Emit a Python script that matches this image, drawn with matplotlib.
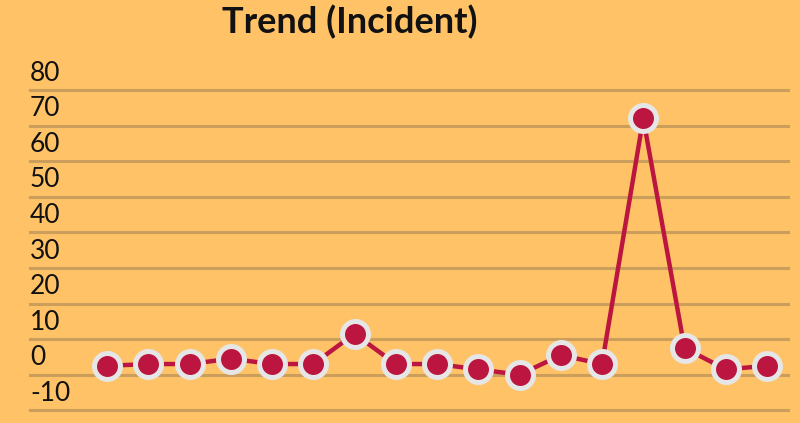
import matplotlib
matplotlib.use("Agg")
import matplotlib.pyplot as plt
import matplotlib.transforms as mtransforms

title = "Trend (Incident)"
y_ticks = [80, 70, 60, 50, 40, 30, 20, 10, 0, -10]
values = [2.5, 3, 3, 4.5, 3, 3, 11.5, 3, 3, 1.5, 0, 5.5, 3, 72, 7.5, 1.5, 2.5]

BG = "#FFC266"
GRID = "#CC9E5C"
LINE = "#BB1540"
EDGE = "#E6E6E6"

plt.rcParams['font.family'] = ['Lato', 'DejaVu Sans']

fig = plt.figure(figsize=(8, 4.23), dpi=100)
fig.patch.set_facecolor(BG)
ax = fig.add_axes([30/800, 1 - 410.3/423, 758/800, 320.3/423])
ax.set_facecolor(BG)
for s in ax.spines.values():
    s.set_visible(False)

x = list(range(len(values)))
ax.set_xlim((30 - 107) / 41.25, (788 - 107) / 41.25)
ax.set_ylim(min(y_ticks), max(y_ticks))

for t in y_ticks:
    ax.axhline(t, color=GRID, lw=2.2, zorder=1, clip_on=False)

trans = mtransforms.blended_transform_factory(ax.transAxes, ax.transData)
for t in y_ticks:
    ax.text(0.0, t + 1.2, str(t), transform=trans, ha='left', va='bottom',
            fontsize=19, color='#111111')

ax.plot(x, values, color=LINE, lw=3.2, zorder=3, clip_on=False,
        marker='o', markersize=18.7, markerfacecolor=LINE,
        markeredgecolor=EDGE, markeredgewidth=3.6)

ax.set_xticks([])
ax.set_yticks([])

fig.text(350/800, 1 - 22/423, title, ha='center', va='center',
         fontsize=26, fontweight='bold', color='#111111')

fig.savefig("out.png", dpi=100, facecolor=BG)
